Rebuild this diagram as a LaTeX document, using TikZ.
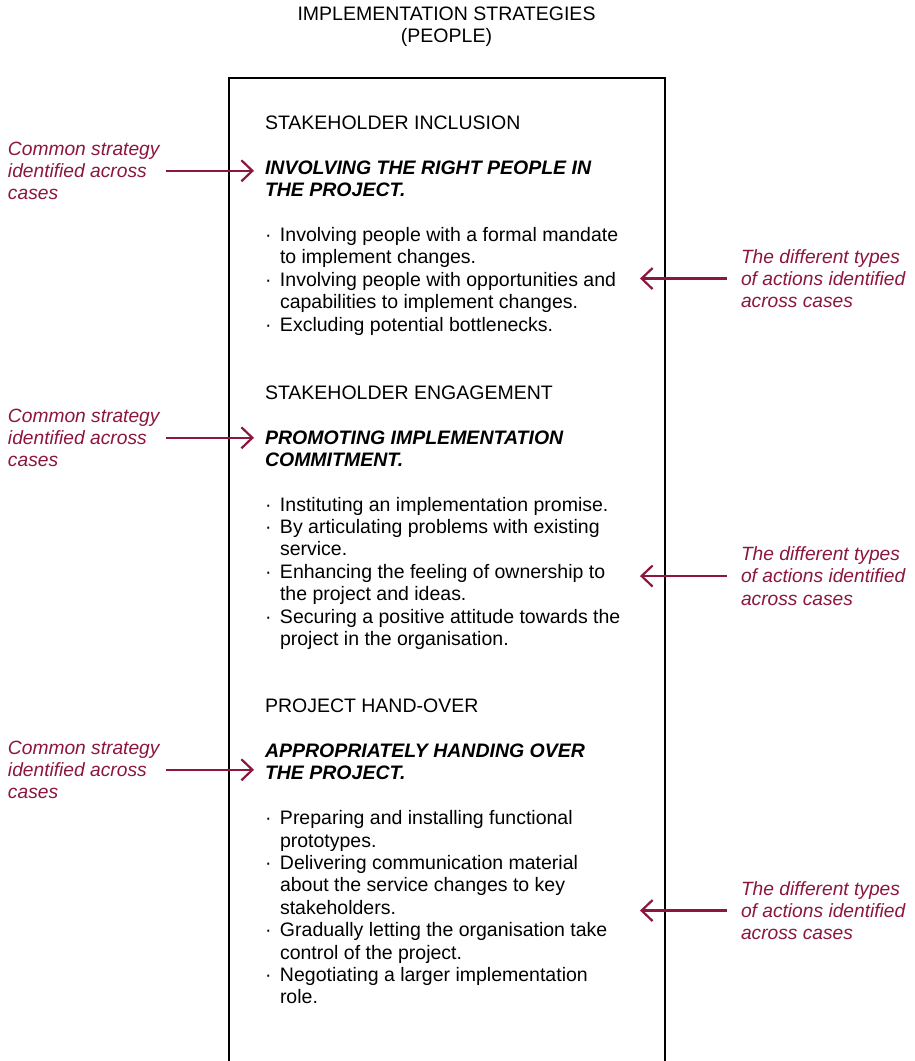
\documentclass[tikz,border=0pt]{standalone}
\usepackage{fontspec}
\setmainfont{Liberation Sans}
\usetikzlibrary{arrows.meta}

\definecolor{notered}{RGB}{139,22,63}

\newcommand{\bulletmark}{\makebox[15pt][l]{\textperiodcentered}}
\newcommand{\hangpad}{\hspace*{15pt}}

% multi-line nodes are placed by the baseline of their last line
\tikzset{
  txt/.style={anchor=base west, inner sep=0pt, outer sep=0pt, align=left,
    font=\fontsize{19.5}{22.4}\selectfont},
  strategy/.style={txt, font=\fontsize{19.5}{22.4}\selectfont\bfseries\itshape},
  note/.style={txt, text=notered, font=\fontsize{19.2}{22.4}\selectfont\itshape},
  notearrow/.style={draw=notered, line width=2.2pt,
    -{Straight Barb[length=11pt, width=21pt, line width=2.2pt]}},
  boxline/.style={draw=black, line width=2.6pt, line join=miter}
}

\begin{document}
\begin{tikzpicture}[x=1pt, y=-1pt]
\useasboundingbox (0,0) rectangle (914,1061);

% title
\node[txt, anchor=base, align=center] (title) at (446.5,42.4)
  {IMPLEMENTATION STRATEGIES\\(PEOPLE)};

% open-bottomed frame
\coordinate (boxNW) at (229,78);
\coordinate (boxNE) at (665,78);
\coordinate (boxSW) at (229,1062);
\coordinate (boxSE) at (665,1062);
\draw[boxline] (boxSW) -- (boxNW) -- (boxNE) -- (boxSE);

% stakeholder inclusion
\node[txt] (head1) at (265,129.5) {STAKEHOLDER INCLUSION};
\node[strategy] (strat1) at (265,196.7) {INVOLVING THE RIGHT PEOPLE IN\\THE PROJECT.};
\node[txt] (acts1) at (265,331.1) {%
  \bulletmark Involving people with a formal mandate\\
  \hangpad to implement changes.\\
  \bulletmark Involving people with opportunities and\\
  \hangpad capabilities to implement changes.\\
  \bulletmark Excluding potential bottlenecks.};

% stakeholder engagement
\node[txt] (head2) at (265,399.3) {STAKEHOLDER ENGAGEMENT};
\node[strategy] (strat2) at (265,466.4) {PROMOTING IMPLEMENTATION\\COMMITMENT.};
\node[txt] (acts2) at (265,645.4) {%
  \bulletmark Instituting an implementation promise.\\
  \bulletmark By articulating problems with existing\\
  \hangpad service.\\
  \bulletmark Enhancing the feeling of ownership to\\
  \hangpad the project and ideas.\\
  \bulletmark Securing a positive attitude towards the\\
  \hangpad project in the organisation.};

% project hand-over
\node[txt] (head3) at (265,712.7) {PROJECT HAND-OVER};
\node[strategy] (strat3) at (265,779.9) {APPROPRIATELY HANDING OVER\\THE PROJECT.};
\node[txt] (acts3) at (265,1003.9) {%
  \bulletmark Preparing and installing functional\\
  \hangpad prototypes.\\
  \bulletmark Delivering communication material\\
  \hangpad about the service changes to key\\
  \hangpad stakeholders.\\
  \bulletmark Gradually letting the organisation take\\
  \hangpad control of the project.\\
  \bulletmark Negotiating a larger implementation\\
  \hangpad role.};

% side notes
\node[note] (lnote1) at (8,199.8) {Common strategy\\identified across\\cases};
\node[note] (lnote2) at (8,466.8) {Common strategy\\identified across\\cases};
\node[note] (lnote3) at (8,798.8) {Common strategy\\identified across\\cases};
\node[note] (rnote1) at (741,307.8) {The different types\\of actions identified\\across cases};
\node[note] (rnote2) at (741,605.3) {The different types\\of actions identified\\across cases};
\node[note] (rnote3) at (741,939.8) {The different types\\of actions identified\\across cases};

% note arrows
\foreach \k in {1,2,3}{
  \draw[notearrow] ([xshift=6pt]lnote\k.east) -- ([xshift=25pt]lnote\k.east -| boxNW);
  \draw[notearrow] ([xshift=-14pt]rnote\k.west) -- ([xshift=-25pt]rnote\k.west -| boxNE);
}
\end{tikzpicture}
\end{document}
